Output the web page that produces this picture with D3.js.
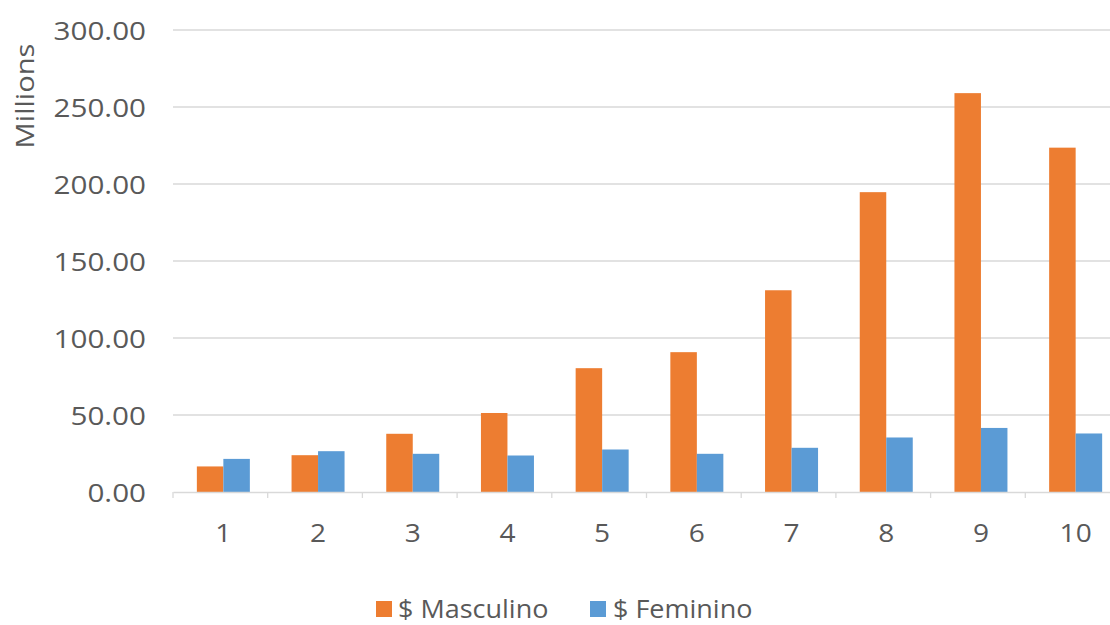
<!DOCTYPE html>
<html><head><meta charset="utf-8">
<script src="https://cdn.jsdelivr.net/npm/d3@7"></script>
<style>body{margin:0;background:#fff}svg text{font-family:"Open Sans",sans-serif;fill:#595959}</style>
</head><body><svg id="c" width="1110" height="625"></svg>
<script>
const categories = ["1","2","3","4","5","6","7","8","9","10"];
const masculino = [16.6, 23.9, 37.8, 51.3, 80.4, 90.8, 131, 194.7, 259, 223.6];
const femenino = [21.5, 26.5, 24.8, 23.7, 27.6, 24.8, 28.7, 35.4, 41.6, 38];
const seriesNames = ["$ Masculino", "$ Feminino"];
const colors = ["#ED7D31", "#5B9BD5"];
const yTicks = [0, 50, 100, 150, 200, 250, 300];

(function(){
const svg = d3.select("#c");
const pLeft = 173, pRight = 1120, pTop = 30, pBottom = 492;
const x = d3.scaleBand().domain(categories).range([pLeft, pRight]);
const y = d3.scaleLinear().domain([0, 300]).range([pBottom, pTop]);
const inner = d3.scaleBand().domain([0,1]).range([0, 53]);
const series = [masculino, femenino];

svg.append("g").selectAll("line").data(yTicks.filter(d=>d>0)).join("line")
  .attr("x1", pLeft).attr("x2", pRight).attr("y1", d=>y(d)).attr("y2", d=>y(d))
  .attr("stroke", "#D9D9D9").attr("stroke-width", 1.3);

const yAxis = d3.axisLeft(y).tickValues(yTicks).tickFormat(d3.format(".2f")).tickSize(0).tickPadding(0);
const ya = svg.append("g").attr("transform", `translate(146,0)`).call(yAxis);
ya.select(".domain").remove();
ya.selectAll("text").style("font-size","26px").attr("dy","0.38em").attr("transform","scale(1.14,1)").style("fill","#595959");

series.forEach((s, si) => {
  svg.append("g").selectAll("rect").data(s).join("rect")
    .attr("x", (d,i)=> x(categories[i]) + x.bandwidth()/2 - 23.5 + inner(si))
    .attr("width", inner.bandwidth())
    .attr("y", d=>y(d)).attr("height", d=>pBottom - y(d))
    .attr("fill", colors[si]);
});

const xAxis = d3.axisBottom(x).tickSize(0).tickPadding(0);
const xa = svg.append("g").attr("transform", `translate(0,${pBottom})`).call(xAxis);
xa.select(".domain").attr("stroke","#D9D9D9").attr("stroke-width",1.3);
xa.selectAll(".tick").attr("transform", d => `translate(${x(d) + x.bandwidth()/2 + 3},0)`);
xa.selectAll("text").style("font-size","26px").attr("y", 41).attr("dy","0.35em").attr("transform","scale(1.08,1)").style("fill","#595959");
svg.append("g").selectAll("line").data(categories.concat(["end"])).join("line")
  .attr("x1",(d,i)=>pLeft + i*x.step()).attr("x2",(d,i)=>pLeft + i*x.step())
  .attr("y1", pBottom).attr("y2", pBottom+6).attr("stroke","#D9D9D9").attr("stroke-width",1.3);

svg.append("text").attr("transform","translate(25,96) rotate(-90) scale(1.12,1)")
  .attr("text-anchor","middle").attr("dy","0.35em").style("font-size","26px").text("Millions");

const lg = svg.append("g");
const lx = [376, 590];
const tx = [398, 613];
seriesNames.forEach((n,i)=>{
  lg.append("rect").attr("x", lx[i]).attr("y", 601).attr("width", 16).attr("height", 16).attr("fill", colors[i]);
  lg.append("text").attr("transform", `translate(${tx[i]},618) scale(1.08,1)`).style("font-size","25px").text(n);
});
})();
</script></body></html>
